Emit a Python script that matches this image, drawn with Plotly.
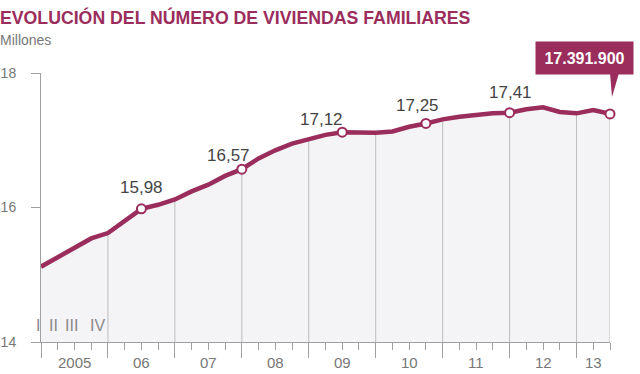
import plotly.graph_objects as go

# ---- data ----
quarters = list(range(35))  # 2005-I ... 2013-III
values = [15.12, 15.26, 15.40, 15.54,
          15.62, 15.81, 15.98, 16.04,
          16.12, 16.24, 16.34, 16.47,
          16.57, 16.73, 16.85, 16.95,
          17.02, 17.08, 17.12, 17.12,
          17.11, 17.13, 17.20, 17.25,
          17.31, 17.35, 17.38, 17.40,
          17.41, 17.46, 17.49, 17.42,
          17.40, 17.45, 17.3919]
highlight_idx = [6, 12, 18, 23, 28, 34]
highlight_labels = ["15,98", "16,57", "17,12", "17,25", "17,41"]
last_label = "17.391.900"
year_labels = ["2005", "06", "07", "08", "09", "10", "11", "12", "13"]
year_centers = [2, 6, 10, 14, 18, 22, 26, 30, 33]
year_starts = [0, 4, 8, 12, 16, 20, 24, 28, 32]
roman_labels = ["I", "II", "III", "IV"]
y_ticks = [14, 16, 18]

# ---- style ----
MAG = "#9b2d5c"
FILL = "#f4f3f6"
GRAY = "#777777"
AX = "#a0a0a0"
FONT = "Liberation Sans, Arial, sans-serif"
label_offsets = [(0, -21), (-13, -14), (-21, -13), (-8, -18), (1, -20)]
roman_px = [-3, 12, 30, 56]  # pixel offsets from first quarter
Y0, Y1 = 14, 18

fig = go.Figure()

# fill under the line
fig.add_trace(go.Scatter(x=quarters, y=values, mode="lines", line=dict(width=0),
                         fill="tozeroy", fillcolor=FILL, hoverinfo="skip", showlegend=False))

# vertical year dividers from curve down to baseline (+ right edge)
gx, gy = [], []
for i in year_starts[1:] + [quarters[-1]]:
    gx += [i, i, None]
    gy += [Y0, values[i], None]
fig.add_trace(go.Scatter(x=gx, y=gy, mode="lines", line=dict(color="#bdbdbd", width=1),
                         hoverinfo="skip", showlegend=False))

# main line
fig.add_trace(go.Scatter(x=quarters, y=values, mode="lines", line=dict(color=MAG, width=4.5),
                         showlegend=False))

# highlighted markers
fig.add_trace(go.Scatter(x=[quarters[i] for i in highlight_idx],
                         y=[values[i] for i in highlight_idx],
                         mode="markers",
                         marker=dict(size=9, color="white", line=dict(color=MAG, width=2)),
                         showlegend=False, cliponaxis=False))

annotations = []
for k, lab in enumerate(highlight_labels):
    i = highlight_idx[k]
    dx, dy = label_offsets[k]
    annotations.append(dict(x=quarters[i], y=values[i], xref="x", yref="y", text=lab,
                            showarrow=False, xshift=dx, yshift=-dy,
                            font=dict(family=FONT, size=17, color="#444444")))

# callout box
li = highlight_idx[-1]
annotations.append(dict(x=quarters[li], y=values[li], xref="x", yref="y",
                        text="<b>" + last_label + "</b>", showarrow=True,
                        arrowcolor="rgba(0,0,0,0)", ax=-25.5, ay=-56,
                        bgcolor=MAG, width=97, height=32, borderpad=0,
                        font=dict(family=FONT, size=16, color="white")))

# year labels
for lab, c in zip(year_labels, year_centers):
    annotations.append(dict(x=c, y=0, xref="x", yref="paper", text=lab, showarrow=False,
                            xanchor="center", yanchor="middle",
                            yshift=-20, font=dict(family=FONT, size=15, color=GRAY)))

# roman quarter labels
for lab, px in zip(roman_labels, roman_px):
    annotations.append(dict(x=0, y=0, xref="paper", yref="paper", text=lab, showarrow=False,
                            xanchor="center", yanchor="middle",
                            xshift=px, yshift=17,
                            font=dict(family=FONT, size=16, color="#8a8a8a")))

# units
annotations.append(dict(x=0, y=1, xref="paper", yref="paper", text="Millones",
                        showarrow=False, xanchor="left", yanchor="middle",
                        xshift=-43, yshift=33, font=dict(family=FONT, size=14, color=GRAY)))

# title
annotations.append(dict(x=0, y=1, xref="paper", yref="paper",
                        text="<b>EVOLUCIÓN DEL NÚMERO DE VIVIENDAS FAMILIARES</b>",
                        showarrow=False, xanchor="left", yanchor="middle",
                        xshift=-43, yshift=56, font=dict(family=FONT, size=17.7, color=MAG)))

fig.update_layout(
    width=640, height=374,
    margin=dict(l=41, r=30, t=73, b=32, autoexpand=False),
    paper_bgcolor="white", plot_bgcolor="white",
    annotations=annotations,
    shapes=[dict(type="path", xref="paper", yref="paper", xsizemode="pixel", ysizemode="pixel",
                 xanchor=1, yanchor=(values[li] - Y0) / (Y1 - Y0),
                 path="M 0,41 L 9,41 L 2,17 Z", fillcolor=MAG, line=dict(width=0))],
    xaxis=dict(range=[0, 34], showgrid=False, zeroline=False, showline=True,
               linecolor=AX, linewidth=1, automargin=False,
               tickmode="array", tickvals=year_starts, ticks="outside", ticklen=15,
               tickcolor=AX, showticklabels=False,
               minor=dict(tickmode="array", tickvals=quarters, ticks="outside",
                          ticklen=7, tickcolor=AX, showgrid=False)),
    yaxis=dict(range=[Y0, Y1], showgrid=False, zeroline=False, showline=True,
               linecolor=AX, linewidth=1, automargin=False,
               tickmode="array", tickvals=y_ticks, ticks="outside", ticklen=9,
               tickcolor=AX, ticklabelstandoff=12,
               tickfont=dict(family=FONT, size=14, color=GRAY)),
    showlegend=False,
)

fig.write_html("out.html", config={"displayModeBar": False},
               post_script="document.body.style.margin='0';document.body.style.overflow='hidden';")
